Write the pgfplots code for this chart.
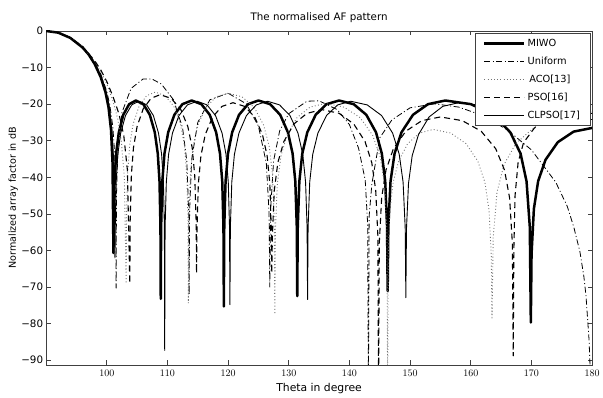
\documentclass[border=0pt]{standalone}
\usepackage{fontspec}
\setmainfont{DejaVu Sans}
\usepackage{pgfplots}
\pgfplotsset{compat=1.18}
\begin{document}
\begin{tikzpicture}
\begin{axis}[
  scale only axis, width=546bp, height=334bp,
  at={(0,0)}, anchor=south west,
  xmin=90, xmax=180, ymin=-91.3, ymax=0,
  xtick={100,110,...,180},
  ytick={-90,-80,...,0},
  yticklabels={−90,−80,−70,−60,−50,−40,−30,−20,−10,0},
  tick align=inside, major tick length=4.5bp,
  xtick pos=both, ytick pos=both,
  axis line style={black!75, line width=0.6pt},
  every tick/.style={black!75, line width=0.6pt},
  ticklabel style={font=\fontsize{10.3bp}{12bp}\selectfont},
  xticklabel style={yshift=-2bp},
  yticklabel style={xshift=0.5bp},
  title={The normalised AF pattern},
  title style={font=\fontsize{10.3bp}{12bp}\selectfont, at={(axis description cs:0.5,1)}, anchor=base, yshift=5bp},
  xlabel={Theta in degree},
  xlabel style={font=\fontsize{10.8bp}{12bp}\selectfont, at={(axis description cs:0.5,-0.0808)}, anchor=base},
  ylabel={Normalized array factor in dB},
  ylabel style={font=\fontsize{9.6bp}{11bp}\selectfont, at={(axis description cs:-0.0601,0.5)}, anchor=center},
  no markers,
  every axis plot/.append style={line join=round},
  legend cell align=left,
  legend image code/.code={\draw[#1] (0bp,0bp) -- (40bp,0bp);},
  legend style={at={(1,1)}, anchor=north east, xshift=-2bp, yshift=-2bp, draw=black!75, fill=white,
    font=\fontsize{9.8bp}{11bp}\selectfont, inner xsep=8bp, inner ysep=4bp, row sep=5bp},
]
% MIWO
\addplot[black, line width=2.5pt] coordinates {
(90,0) (92,-0.45) (94,-1.9) (96,-4.5) (97,-6.4) (98,-9.0) (99,-12.6) (99.8,-16.8) (100.3,-21) (100.7,-27) (100.95,-36) (101.1,-60.7)
(101.144,-53.5) (101.285,-41.1) (101.544,-33.5) (101.988,-27.7) (102.728,-22.9) (103.69,-20.0) (104.8,-19) (106.03,-20.0) (107.096,-22.9) (107.916,-27.7) (108.408,-33.5) (108.695,-41.1) (108.851,-53.5) (108.9,-73.2)
(108.961,-53.5) (109.155,-41.1) (109.512,-33.5) (110.124,-27.7) (111.144,-22.9) (112.47,-20.0) (114.0,-19) (115.59,-20.0) (116.968,-22.9) (118.028,-27.7) (118.664,-33.5) (119.035,-41.1) (119.236,-53.5) (119.3,-75.3)
(119.368,-53.5) (119.585,-41.1) (119.984,-33.5) (120.668,-27.7) (121.808,-22.9) (123.29,-20.0) (125.0,-19) (126.92,-20.0) (128.584,-22.9) (129.864,-27.7) (130.632,-33.5) (131.08,-41.1) (131.323,-53.5) (131.4,-72.5)
(131.483,-53.5) (131.745,-41.1) (132.228,-33.5) (133.056,-27.7) (134.436,-22.9) (136.23,-20.0) (138.3,-19) (140.7,-20.0) (142.78,-22.9) (144.38,-27.7) (145.34,-33.5) (145.9,-41.1) (146.204,-53.5) (146.3,-71.1)
(146.414,-53.5) (146.775,-41.1) (147.44,-33.5) (148.58,-27.7) (150.48,-22.9) (152.95,-20.0) (155.8,-19) (160.03,-20.0) (163.696,-22.9) (166.516,-27.7) (168.208,-33.5) (169.195,-41.1) (169.731,-53.5) (169.9,-79.7)
(170.02,-61) (170.405,-48.6) (171.112,-41) (172.324,-35.2) (174.344,-30.4) (176.97,-27.5) (180,-26.5)
};
\addlegendentry{MIWO}
% Uniform
\addplot[black, line width=0.8pt, dash pattern=on 6bp off 2.5bp on 1bp off 2.5bp] coordinates {
(90,0) (92,-0.44) (94,-1.8) (96,-4.29) (98,-8.48) (99,-11.7) (100,-16.5) (100.5,-20.2) (101,-26.2) (101.3,-33.4) (101.5,-50) (101.54,-70.3) (101.6,-45) (101.8,-34.2) (102.5,-22.3) (104,-15.7) (106,-13.1) (107.5,-13.16) (109,-14.5) (111,-18.8) (112.5,-26.5) (113.2,-35.6) (113.5,-49.4) (113.58,-72) (113.66,-49) (114,-35) (115,-25) (117,-18.8) (120,-17.0) (123,-19.9) (125,-26.0) (126.3,-36.1) (126.75,-49.6) (126.87,-70) (127,-49) (127.5,-35.5) (128.5,-27.3) (130,-22.6) (133,-19.2) (135,-19.08) (138,-21.5) (140,-25.6) (141.5,-32.0) (142.6,-40.7) (143.0,-52.6) (143.13,-100) (143.25,-50.6) (143.7,-41.8) (145,-29.2) (147,-24.3) (150,-21.0) (154,-19.9) (158,-20.8) (162,-23.1) (166,-27.0) (170,-32.5) (174,-41.3) (175.9,-47.9) (177,-53.7) (178,-60.4) (178.65,-67.2) (179,-72.5) (179.5,-84.5) (179.7,-93.3) (180,-100)
};
\addlegendentry{Uniform}
% ACO
\addplot[black!55, line width=0.9pt, dash pattern=on 0.9bp off 2.3bp] coordinates {
(90,0) (92,-0.45) (94,-1.85) (96,-4.3) (98,-8.4) (99,-11.0) (100,-14.5) (101,-19) (101.8,-24) (102.4,-30) (102.9,-40) (103.2,-69)
(103.258,-51.2) (103.44,-38.8) (103.776,-31.2) (104.352,-25.4) (105.312,-20.6) (106.56,-17.7) (108.0,-16.7) (109.635,-17.7) (111.052,-20.6) (112.142,-25.4) (112.796,-31.2) (113.1775,-38.8) (113.385,-51.2) (113.45,-74.4)
(113.529,-51.5) (113.778,-39.1) (114.236,-31.5) (115.022,-25.7) (116.332,-20.9) (118.035,-18.0) (120.0,-17.0) (122.31,-18.0) (124.312,-20.9) (125.852,-25.7) (126.776,-31.5) (127.315,-39.1) (127.608,-51.5) (127.7,-77.4)
(127.8,-54.3) (128.115,-41.9) (128.696,-34.3) (129.692,-28.5) (131.352,-23.7) (133.51,-20.8) (136.0,-19.8) (139.09,-20.8) (141.768,-23.7) (143.828,-28.5) (145.064,-34.3) (145.785,-41.9) (146.176,-54.3) (146.3,-100)
(146.39,-61.4) (146.675,-49) (147.2,-41.4) (148.1,-35.6) (149.6,-30.8) (151.55,-27.9) (153.8,-26.9) (156.71,-27.9) (159.232,-30.8) (161.172,-35.6) (162.336,-41.4) (163.015,-49) (163.384,-61.4) (163.5,-78.8)
(163.698,-56.5) (164.325,-44.1) (165.48,-36.5) (167.46,-30.7) (170.76,-25.9) (175.05,-23) (180,-22)
};
\addlegendentry{\,ACO[13]}
% PSO
\addplot[black, line width=1.1pt, dash pattern=on 6bp off 4bp] coordinates {
(90,0) (92,-0.45) (94,-1.8) (96,-4.2) (98,-8.1) (99,-10.6) (100,-13.8) (101,-17.8) (102,-22.6) (102.8,-28.5) (103.4,-38) (103.8,-69)
(103.86,-51.9) (104.05,-39.5) (104.4,-31.9) (105.0,-26.1) (106.0,-21.3) (107.3,-18.4) (108.8,-17.4) (110.6,-18.4) (112.16,-21.3) (113.36,-26.1) (114.08,-31.9) (114.5,-39.5) (114.728,-51.9) (114.8,-66.2)
(114.872,-54.1) (115.1,-41.7) (115.52,-34.1) (116.24,-28.3) (117.44,-23.5) (119.0,-20.6) (120.8,-19.6) (122.72,-20.6) (124.384,-23.5) (125.664,-28.3) (126.432,-34.1) (126.88,-41.7) (127.123,-54.1) (127.2,-66.2)
(127.3,-56) (127.615,-43.6) (128.196,-36) (129.192,-30.2) (130.852,-25.4) (133.01,-22.5) (135.5,-21.5) (138.29,-22.5) (140.708,-25.4) (142.568,-30.2) (143.684,-36) (144.335,-43.6) (144.688,-56) (144.8,-100)
(144.922,-58) (145.31,-45.6) (146.024,-38) (147.248,-32.2) (149.288,-27.4) (151.94,-24.5) (155.0,-23.5) (158.6,-24.5) (161.72,-27.4) (164.12,-32.2) (165.56,-38) (166.4,-45.6) (166.856,-58) (167.0,-88.8)
(167.1,-60) (167.3,-45) (167.8,-36) (168.7,-30.5) (170.5,-26.5) (173,-24) (176,-22.8) (180,-22.5)
};
\addlegendentry{PSO[16]}
% CLPSO
\addplot[black, line width=0.9pt] coordinates {
(90,0) (92,-0.45) (94,-1.85) (96,-4.4) (97,-6.2) (98,-8.7) (99,-12.1) (99.8,-16.0) (100.4,-20.5) (100.85,-27) (101.2,-37) (101.35,-62)
(101.397,-53.7) (101.548,-41.3) (101.824,-33.7) (102.298,-27.9) (103.088,-23.1) (104.115,-20.2) (105.3,-19.2) (106.575,-20.2) (107.68,-23.1) (108.53,-27.9) (109.04,-33.7) (109.3375,-41.3) (109.499,-53.7) (109.55,-87.3)
(109.614,-53.7) (109.818,-41.3) (110.192,-33.7) (110.834,-27.9) (111.904,-23.1) (113.295,-20.2) (114.9,-19.2) (116.52,-20.2) (117.924,-23.1) (119.004,-27.9) (119.652,-33.7) (120.03,-41.3) (120.235,-53.7) (120.3,-74.8)
(120.374,-53.7) (120.61,-41.3) (121.044,-33.7) (121.788,-27.9) (123.028,-23.1) (124.64,-20.2) (126.5,-19.2) (128.48,-20.2) (130.196,-23.1) (131.516,-27.9) (132.308,-33.7) (132.77,-41.3) (133.021,-53.7) (133.1,-73.4)
(133.185,-53.7) (133.455,-41.3) (133.952,-33.7) (134.804,-27.9) (136.224,-23.1) (138.07,-20.2) (140.2,-19.2) (142.93,-20.2) (145.296,-23.1) (147.116,-27.9) (148.208,-33.7) (148.845,-41.3) (149.191,-53.7) (149.3,-72.9)
(149.404,-54.1) (149.735,-41.7) (150.344,-34.1) (151.388,-28.3) (153.128,-23.5) (155.39,-20.6) (158.0,-19.6) (161,-20.2) (164,-21.2) (167,-22.2) (170,-23) (175,-23.8) (180,-24.2)
};
\addlegendentry{CLPSO[17]}
\end{axis}
\pgfresetboundingbox
\path[use as bounding box] (-46.1bp,-33bp) rectangle (556.9bp,365bp);
\end{tikzpicture}
\end{document}
